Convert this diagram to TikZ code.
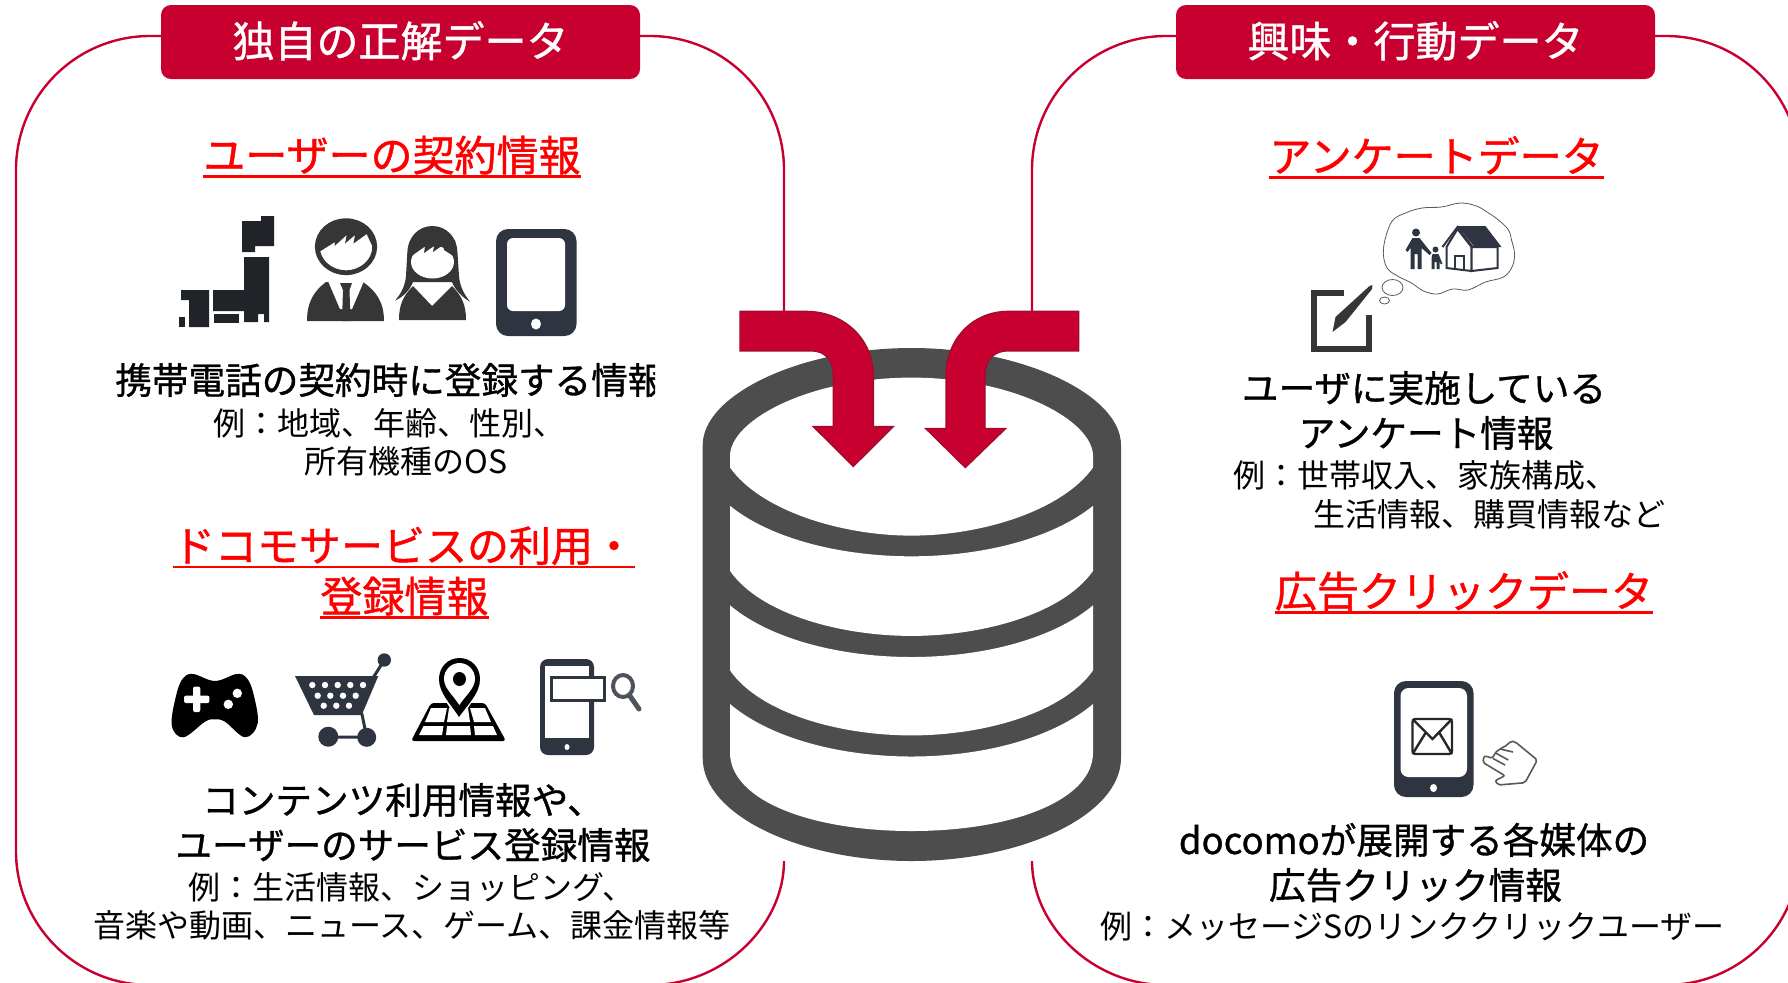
\documentclass[tikz,border=0pt]{standalone}
\usepackage{fontspec}
\setmainfont{Noto Sans CJK JP}
\newfontfamily\jpmed[FakeBold=1]{Noto Sans CJK JP}
\usetikzlibrary{arrows.meta, positioning}
\definecolor{brandred}{HTML}{C8002F}
\definecolor{edgered}{HTML}{A30A2E}
\definecolor{cylgray}{HTML}{4D4D4D}
\definecolor{icondark}{HTML}{2E3440}
\definecolor{mapdark}{HTML}{202328}
\definecolor{persondark}{HTML}{363636}

\begin{document}
\begin{tikzpicture}[
  x=0.5pt, y=-0.5pt,
  panelline/.style={draw=brandred, line width=1.2pt},
  banner/.style={fill=brandred, text=white, rounded corners=5pt, inner sep=0pt,
    minimum width=239.5pt, minimum height=37pt, font=\jpmed\fontsize{21pt}{21pt}\selectfont},
  headtext/.style={text=red, inner sep=0pt, text height=18.5pt, text depth=2.5pt,
    font=\jpmed\fontsize{21pt}{21pt}\selectfont},
  headline/.style={red, line width=1.2pt},
  infotext/.style={inner sep=0pt, text height=16.1pt, text depth=2.2pt,
    font=\jpmed\fontsize{18.3pt}{18.3pt}\selectfont},
  extext/.style={inner sep=0pt, text height=14.1pt, text depth=1.9pt, anchor=west,
    font=\fontsize{16pt}{16pt}\selectfont},
  bendarrow/.style={fill=brandred, draw=edgered, line width=0.7pt}
]
  \path[use as bounding box, clip] (0,0) rectangle (1788,982);

  % Panels
  \path[panelline] (784,861) .. controls (784,925) and (724,985) .. (650,985) -- (150,985)
    .. controls (76,985) and (16,925) .. (16,851) -- (16,170)
    .. controls (16,96) and (76,36) .. (150,36) -- (650,36)
    .. controls (724,36) and (784,96) .. (784,170) -- (784,311);
  \path[panelline] (1032,861) .. controls (1032,925) and (1092,985) .. (1166,985) -- (1666,985)
    .. controls (1740,985) and (1800,925) .. (1800,851) -- (1800,170)
    .. controls (1800,96) and (1740,36) .. (1666,36) -- (1166,36)
    .. controls (1092,36) and (1032,96) .. (1032,170) -- (1032,311);

  % Banners
  \node (banL) [banner] at (400.5,42) {\raisebox{3pt}{独自の正解データ}};
  \node (banR) [banner] at (1415.5,42) {\raisebox{3pt}{興味・行動データ}};

  % Database
  \fill[cylgray] (702.7,445) .. controls (702.7,395) and (800,348) .. (911.5,348)
    .. controls (1023,348) and (1121,395) .. (1121,445) -- (1121,758)
    .. controls (1121,815) and (1023,861) .. (911.5,861)
    .. controls (800,861) and (702.7,815) .. (702.7,758) -- cycle;
  \fill[white] (730,456) .. controls (730,420) and (810,377.6) .. (911.5,377.6)
    .. controls (1013,377.6) and (1093,420) .. (1093,456) -- (1093,467.5)
    .. controls (1063,510) and (983,535.6) .. (911.5,535.6)
    .. controls (840,535.6) and (760,510) .. (730,467.5) -- cycle;
  \foreach \ta/\tb/\ba/\bb in {505.8/556.3/570.9/635.9, 605.3/657/670.4/735.4} {
    \fill[white] (730,\ta) .. controls (770,\tb-18) and (840,\tb) .. (911.5,\tb)
      .. controls (983,\tb) and (1053,\tb-18) .. (1093,\ta) -- (1093,\ba)
      .. controls (1063,\bb-22) and (983,\bb) .. (911.5,\bb)
      .. controls (840,\bb) and (760,\bb-22) .. (730,\ba) -- cycle;
  }
  \fill[white] (730,704) .. controls (770,738) and (840,756.5) .. (911.5,756.5)
    .. controls (983,756.5) and (1053,738) .. (1093,704) -- (1093,752.6)
    .. controls (1093,800) and (1013,831) .. (911.5,831)
    .. controls (810,831) and (730,800) .. (730,752.6) -- cycle;

  % Arrows
  \path[bendarrow] (740,311.4) -- (806,311.4) .. controls (845,311.4) and (873.3,340) .. (873.3,375.7)
    -- (873.3,426.6) -- (893.3,426.6) -- (853.3,466.4) -- (813.3,426.6) -- (833.3,426.6) -- (833.3,375.7)
    .. controls (833.3,360) and (825,350.8) .. (811,350.8) -- (740,350.8) -- cycle;
  \path[bendarrow] (1078.7,311.4) -- (1008,311.4) .. controls (972,311.4) and (946,340) .. (946,375.7)
    -- (946,428.5) -- (925.7,428.5) -- (965.3,467.5) -- (1005.7,428.5) -- (985,428.5) -- (985,375.7)
    .. controls (985,360) and (994,350.8) .. (1008,350.8) -- (1078.7,350.8) -- cycle;

  % Headings
  \node (headA) [headtext] at (392,155) {ユーザーの契約情報};
  \node (headBa) [headtext] at (404,545.5) {ドコモサービスの利用・};
  \node (headBb) [headtext] at (404.5,596) {登録情報};
  \node (headC) [headtext] at (1436.5,156) {アンケートデータ};
  \node (headD) [headtext] at (1464,591) {広告クリックデータ};
  \foreach \h in {headA, headBa, headBb, headC, headD}
    \draw[headline] (\h.south west) -- (\h.south east);

  % Left texts
  \begin{scope}
    \clip (0,350) rectangle (655,410);
    \node (infoA) [infotext, anchor=west] at (115,380) {携帯電話の契約時に登録する情報};
  \end{scope}
  \node (exAa) [extext] at (213,423) {例：地域、年齢、性別、};
  \node (exAb) [extext] at (304,461.5) {所有機種のOS};
  \node (infoBa) [infotext] at (403,800) {コンテンツ利用情報や、};
  \node (infoBb) [infotext] at (413,845) {ユーザーのサービス登録情報};
  \node (exBa) [extext] at (188,887) {例：生活情報、ショッピング、};
  \node (exBb) [extext] at (93,925) {音楽や動画、ニュース、ゲーム、課金情報等};

  % Right texts
  \node (infoCa) [infotext] at (1424,388) {ユーザに実施している};
  \node (infoCb) [infotext] at (1426,433) {アンケート情報};
  \node (exCa) [extext] at (1233,475) {例：世帯収入、家族構成、};
  \node (exCb) [extext] at (1313,514) {生活情報、購買情報など};
  \node (infoDa) [infotext] at (1414,840) {docomoが展開する各媒体の};
  \node (infoDb) [infotext] at (1415.5,885) {広告クリック情報};
  \node (exD) [extext] at (1100,926) {例：メッセージSのリンククリックユーザー};

  % Japan map
  \fill[mapdark] (242,221) -- (261,221) -- (261,216) -- (274,216) -- (274,246) -- (255,246) -- (255,252) -- (242,252) -- cycle;
  \fill[mapdark] (244,257) -- (269,257) -- (269,322) -- (264,322) -- (264,314) -- (258,314) -- (258,322)
    -- (244,322) -- (244,311) -- (213,311) -- (213,290) -- (244,290) -- cycle;
  \fill[mapdark] (214,314) rectangle (239,323);
  \fill[mapdark] (181,290) -- (209,290) -- (209,327) -- (189,327) -- (189,300) -- (181,300) -- cycle;
  \fill[mapdark] (178.5,317) rectangle (185,327);

  % Man
  \fill[persondark] (307,321) .. controls (307,302) and (314,291) .. (326,282) -- (363,282)
    .. controls (376,291) and (384,302) .. (384,321) -- cycle;
  \fill[white] (328,281) -- (364,281) -- (352,309) -- (340,309) -- cycle;
  \fill[persondark] (340,283) -- (352,283) -- (349.5,290) -- (350.5,321) -- (342,321) -- (343,290) -- cycle;
  \draw[persondark, line width=2.4pt] (346,246.7) ellipse [x radius=28.7, y radius=26];
  \fill[persondark] (319,252) .. controls (313,232) and (328,219) .. (346,219)
    .. controls (364,219) and (379,232) .. (375,252) -- (366.7,234) -- (353.5,243.5) -- (355,235)
    -- (345,243.5) -- (346.7,235) -- (334.5,246) -- (335,242) -- cycle;

  % Woman
  \fill[persondark] (432.3,226) .. controls (418,226) and (407.3,238) .. (407.3,253) -- (406,276)
    .. controls (405,288) and (399,296) .. (395,300.7) .. controls (403,297) and (410,290) .. (413,282)
    -- (452,282) .. controls (455,290) and (462,297) .. (470,301.7) .. controls (465,295) and (460,288) .. (459,276)
    -- (457.5,253) .. controls (457.5,238) and (447,226) .. (432.3,226) -- cycle;
  \fill[white] (432.5,262) ellipse [x radius=21.5, y radius=16.5];
  \fill[persondark] (410,257) -- (425,246.5) -- (424,253) -- (434,246) -- (433,252) -- (443,245) -- (444,250)
    -- (455,257) -- (455,240) -- (410,240) -- cycle;
  \fill[persondark] (399,320) .. controls (399,305) and (403,296) .. (413,286) -- (432,306) -- (452,286)
    .. controls (462,296) and (466,305) .. (466,320) -- cycle;

  % Phone
  \fill[icondark, rounded corners=6pt] (496,229) rectangle (576.5,336);
  \fill[white, rounded corners=3pt] (507,238) -- (565,238) -- (565,311) -- (507,311) -- cycle;
  \fill[white] (536,324) ellipse [x radius=5, y radius=5.5];

  % Gamepad
  \fill[black] plot[smooth cycle, tension=0.6] coordinates {(193.3,674) (215,681) (236.7,674) (246.7,678) (253.3,693.3)
    (257.7,723.3) (245,737.3) (225,721.7) (214.3,719.3) (205,721.7) (183.3,737.3) (171.7,725) (176.7,693.3) (183.3,678)};
  \fill[white, rounded corners=1pt] (193,686.6) rectangle (200.3,712);
  \fill[white, rounded corners=1pt] (184,695.6) rectangle (209.4,703);
  \fill[white] (237.3,693.3) circle (4.7);
  \fill[white] (228.3,704.3) circle (4.7);

  % Cart
  \fill[icondark] (295,676) -- (378.3,676) -- (361.7,715) -- (314,715) -- cycle;
  \draw[icondark, line width=1.5pt] (371.7,680) -- (384.3,660);
  \fill[icondark] (384.3,660) circle (6.7);
  \draw[icondark, line width=1.5pt] (361.7,713) -- (366.7,737) -- (328.3,737);
  \fill[icondark] (328.3,736.7) circle (10);
  \fill[icondark] (366.7,737.3) circle (9.5);
  \foreach \hx in {312.3,325,337.7,350.3,363} \fill[white] (\hx,685) circle (3.2);
  \foreach \hx in {317.7,330.3,343,355.7} \fill[white] (\hx,695.7) circle (3.2);
  \foreach \hx in {323.7,336.3,349} \fill[white] (\hx,705.7) circle (3.2);

  % Map pin
  \fill[black, rounded corners=1.5pt] (411,741) -- (506,741) -- (485,703) -- (431,703) -- cycle;
  \fill[white] (431,708) -- (447,708) -- (444,722) -- (425,722) -- cycle;
  \fill[white] (470,708) -- (485,708) -- (491,722) -- (474,722) -- cycle;
  \fill[white] (449,708) -- (468,708) -- (470,722) -- (447,722) -- cycle;
  \fill[white] (423.5,726) -- (443.5,726) -- (442,735) -- (419,735) -- cycle;
  \fill[white] (447,726) -- (470,726) -- (471,735) -- (446,735) -- cycle;
  \fill[white] (474,726) -- (493,726) -- (497,735) -- (475,735) -- cycle;
  \fill[white] (459,722) -- (436,686) -- (436,660) -- (482,660) -- (482,686) -- cycle;
  \fill[black] (459,717) .. controls (450,703) and (439,693) .. (439,679)
    .. controls (439,667) and (448,658) .. (459.5,658) .. controls (471,658) and (480,667) .. (480,679)
    .. controls (480,693) and (469,703) .. (459,717) -- cycle;
  \fill[white] (459.3,705) .. controls (453,695) and (444,688) .. (444,679)
    .. controls (444,670) and (451,663) .. (459.5,663) .. controls (468,663) and (475,670) .. (475,679)
    .. controls (475,688) and (466,695) .. (459.3,705) -- cycle;
  \fill[black] (459.5,679) ellipse [x radius=6.5, y radius=7];

  % Search phone
  \fill[icondark, rounded corners=4pt] (540,659) rectangle (594,755);
  \fill[white] (545,666) -- (589,666) -- (589,738) -- (545,738) -- cycle;
  \fill[white] (567,747) ellipse [x radius=2.5, y radius=3];
  \path[fill=white, draw=icondark, line width=1.5pt] (551,677.5) rectangle (604.5,700.5);
  \draw[icondark!85, line width=2pt] (623,686) ellipse [x radius=10, y radius=11];
  \draw[icondark!85, line width=2.5pt, line cap=round] (630,696) -- (639,709);

  \begin{scope}[shift={(-6.5,0)}]
  % Thought cloud
  \draw[gray!70!black, line width=0.4pt] plot[smooth cycle, tension=0.6] coordinates {(1390,248) (1398,222) (1412,213) (1428.6,208)
    (1448,207) (1467,203) (1483,206) (1495,213) (1505,220) (1515,230) (1518,240) (1521,253) (1519,266) (1510,277) (1492,282) (1474.5,290) (1459,289) (1444,294) (1430,291) (1418,283) (1404,276) (1393,267)};
  \draw[gray!70!black, line width=0.4pt] (1399,287.5) ellipse [x radius=10.5, y radius=8];
  \draw[gray!70!black, line width=0.4pt] (1391,300.5) ellipse [x radius=5, y radius=3.5];

  % Family and house
  \fill[icondark] (1422.5,232.5) circle (4);
  \fill[icondark] (1419,238) -- (1426,238) -- (1430,243) -- (1438,253) -- (1436,255) -- (1428,248) -- (1428,269)
    -- (1424,269) -- (1424,254) -- (1421,254) -- (1421,269) -- (1417,269) -- (1417,248) -- (1414,252) -- (1412,250) -- cycle;
  \fill[icondark] (1442,249.5) circle (3);
  \fill[icondark] (1439,254) -- (1445,254) -- (1449,264) -- (1447,264) -- (1446,261) -- (1446,269) -- (1443,269)
    -- (1443,262) -- (1441,262) -- (1441,269) -- (1438,269) -- (1438,258) -- cycle;
  \fill[icondark] (1464,226) -- (1492,226) -- (1508,247) -- (1481,247) -- cycle;
  \path[fill=white, draw=icondark, line width=1pt] (1453,247) -- (1464,229) -- (1478,247) -- (1478,271) -- (1453,268) -- cycle;
  \path[fill=white, draw=icondark, line width=1pt] (1478,247) -- (1504,247) -- (1504,268) -- (1478,271) -- cycle;
  \draw[icondark, line width=1pt] (1461,268) -- (1461,256) -- (1470,256) -- (1470,269);
  \draw[icondark, line width=1pt] (1449,247) -- (1464,227) -- (1479,247);

  % Survey sheet
  \draw[persondark, line width=3pt] (1350.5,293) -- (1320,293) -- (1320,348.5) -- (1375,348.5) -- (1375,315);
  \fill[persondark] (1339,332) -- (1342,317) -- (1376,286) -- (1379,285) -- (1378.5,289) -- (1352,322) -- cycle;

  % Mail phone
  \fill[icondark, rounded corners=6pt] (1400.5,681) rectangle (1480,797);
  \fill[white, rounded corners=4pt] (1407,688) -- (1473.5,688) -- (1473.5,777) -- (1407,777) -- cycle;
  \fill[white] (1440,788) ellipse [x radius=3.5, y radius=4];
  \draw[black!85, line width=1.2pt, rounded corners=1.5pt] (1419,719) rectangle (1458.5,754);
  \draw[black!85, line width=1.2pt] (1419,719) -- (1439,739) -- (1458.5,719);
  \draw[black!85, line width=1.2pt] (1419,754) -- (1432,733);
  \draw[black!85, line width=1.2pt] (1458.5,754) -- (1446,733);
  \end{scope}

  % Hand
  \path[fill=white, draw=black!65, line width=0.8pt, rounded corners=1pt] (1495,780.7) -- (1505,775.7) -- (1482.7,762.3) -- (1484.3,755.7)
    -- (1492.7,758.3) -- (1495,752.7) -- (1500,749) -- (1507.3,745) -- (1510.7,741) -- (1515,741.7) -- (1537.3,760)
    -- (1525,782.7) -- (1498.3,785) -- cycle;
  \draw[black!65, line width=0.8pt] (1492.7,758.3) -- (1505,765);
  \draw[black!65, line width=0.8pt] (1495,752.7) -- (1508.3,760);
  \draw[black!65, line width=0.8pt] (1500,749) -- (1513,752);
\end{tikzpicture}
\end{document}
